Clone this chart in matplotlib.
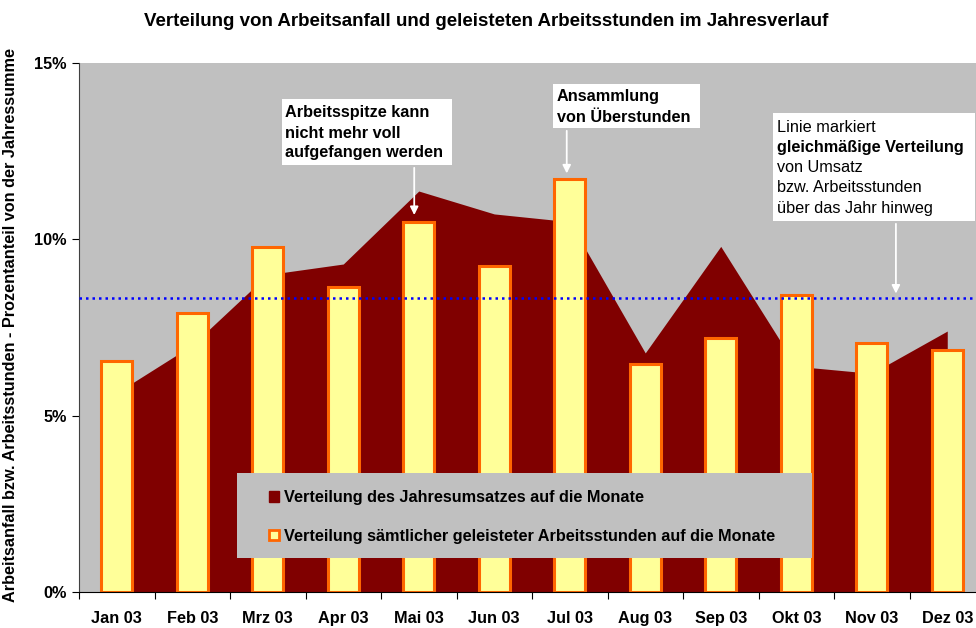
import matplotlib
matplotlib.use("Agg")
import matplotlib.pyplot as plt
import matplotlib.patches as mpatches
import matplotlib.ticker as mtick
import numpy as np

plt.rcParams['font.family'] = ['Liberation Sans', 'DejaVu Sans']

months = ['Jan 03', 'Feb 03', 'Mrz 03', 'Apr 03', 'Mai 03', 'Jun 03',
          'Jul 03', 'Aug 03', 'Sep 03', 'Okt 03', 'Nov 03', 'Dez 03']
# Verteilung des Jahresumsatzes (%)
umsatz = [5.65, 7.0, 9.0, 9.3, 11.37, 10.72, 10.5, 6.78, 9.8, 6.4, 6.2, 7.4]
# Verteilung der geleisteten Arbeitsstunden (%)
stunden = [6.55, 7.91, 9.78, 8.65, 10.49, 9.24, 11.71, 6.46, 7.2, 8.42, 7.06, 6.86]
gleich = 100 / 12

W, H = 976, 628
fs = 11.7
fig = plt.figure(figsize=(W / 100, H / 100), dpi=100)

def fx(px):
    return px / W

def fy(py):
    return 1 - py / H

# plot area runs past the right edge of the picture
ax = fig.add_axes([fx(79), fy(592), fx(906), (592 - 63) / H])
ax.set_facecolor('#C0C0C0')

x = np.arange(len(months))
ax.fill_between(x, 0, umsatz, color='#800000', lw=0, zorder=1)
ax.bar(x, stunden, width=0.41, facecolor='#FFFF99', edgecolor='#FF6600',
       linewidth=2.2, zorder=2)
ax.axhline(gleich, color='#0000FF', lw=1.8, ls=(0, (1, 1.6)), zorder=3)

ax.set_xlim(-0.5, 11.5)
ax.set_ylim(0, 15)
ax.set_yticks([0, 5, 10, 15])
ax.yaxis.set_major_formatter(mtick.FuncFormatter(lambda v, p: '%d%%' % v))
ax.set_xticks(np.arange(-0.5, 12, 1))
ax.set_xticklabels([])
ax.set_xticks(x, minor=True)
ax.set_xticklabels(months, minor=True)
ax.tick_params(axis='x', which='major', direction='out', length=5, width=0.8)
ax.tick_params(axis='x', which='minor', length=0, pad=14, labelsize=fs)
ax.tick_params(axis='y', direction='out', length=5, width=0.8, pad=4, labelsize=fs)
for lab in ax.get_xticklabels(minor=True) + ax.get_yticklabels():
    lab.set_fontweight('bold')
for s in ['top', 'right']:
    ax.spines[s].set_visible(False)
ax.spines['left'].set_color('#404040')
ax.spines['bottom'].set_color('black')

ax.set_ylabel('Arbeitsanfall bzw. Arbeitsstunden - Prozentanteil von der Jahressumme',
              fontsize=fs, fontweight='bold')
ax.yaxis.set_label_coords(-0.0675, 0.505)

fig.text(fx(486), fy(21), 'Verteilung von Arbeitsanfall und geleisteten Arbeitsstunden im Jahresverlauf',
         ha='center', va='center', fontsize=13.5, fontweight='bold')

# legend box
fig.patches.append(mpatches.Rectangle((fx(237), fy(558)), fx(575), (558 - 473) / H,
                                      transform=fig.transFigure, facecolor='#C0C0C0',
                                      edgecolor='none', zorder=5))
h1 = mpatches.Patch(facecolor='#800000', edgecolor='#800000',
                    label='Verteilung des Jahresumsatzes auf die Monate')
h2 = mpatches.Patch(facecolor='#FFFF99', edgecolor='#FF6600', lw=2,
                    label='Verteilung sämtlicher geleisteter Arbeitsstunden auf die Monate')
leg = fig.legend(handles=[h1, h2], loc='center left', bbox_to_anchor=(fx(254), fy(517)),
                 frameon=False, handlelength=0.62, handleheight=0.62, handletextpad=0.3,
                 labelspacing=1.45, prop={'weight': 'bold', 'size': fs})
leg.set_zorder(6)

# annotations
def box(x0, y0, x1, y1):
    fig.patches.append(mpatches.Rectangle((fx(x0), fy(y1)), fx(x1 - x0), (y1 - y0) / H,
                                          transform=fig.transFigure, facecolor='white',
                                          edgecolor='none', zorder=5))

box(282, 99, 452, 165)
for i, t in enumerate(['Arbeitsspitze kann', 'nicht mehr voll', 'aufgefangen werden']):
    fig.text(fx(285), fy(113 + i * 20), t, fontsize=fs, fontweight='bold', va='center', zorder=6)

box(553, 84, 700, 128)
for i, t in enumerate(['Ansammlung', 'von Überstunden']):
    fig.text(fx(557), fy(97 + i * 20), t, fontsize=fs, fontweight='bold', va='center', zorder=6)

box(773, 113, 975, 221)
lines3 = [('Linie markiert', 'normal'), ('gleichmäßige Verteilung', 'bold'),
          ('von Umsatz', 'normal'), ('bzw. Arbeitsstunden', 'normal'),
          ('über das Jahr hinweg', 'normal')]
for i, (t, w) in enumerate(lines3):
    fig.text(fx(777), fy(127 + i * 20.3), t, fontsize=fs, fontweight=w, va='center', zorder=6)

arrow = dict(arrowstyle='-|>', color='white', lw=1.3, mutation_scale=12)
ax.annotate('', xy=(3.94, stunden[4] + 0.12), xytext=(3.94, (592 - 165) / 35.27),
            arrowprops=arrow, zorder=6)
ax.annotate('', xy=(5.96, stunden[6] + 0.08), xytext=(5.96, (592 - 128) / 35.27),
            arrowprops=arrow, zorder=6)
ax.annotate('', xy=(10.32, gleich + 0.05), xytext=(10.32, (592 - 221) / 35.27),
            arrowprops=arrow, zorder=6)

fig.savefig('out.png', dpi=100)
